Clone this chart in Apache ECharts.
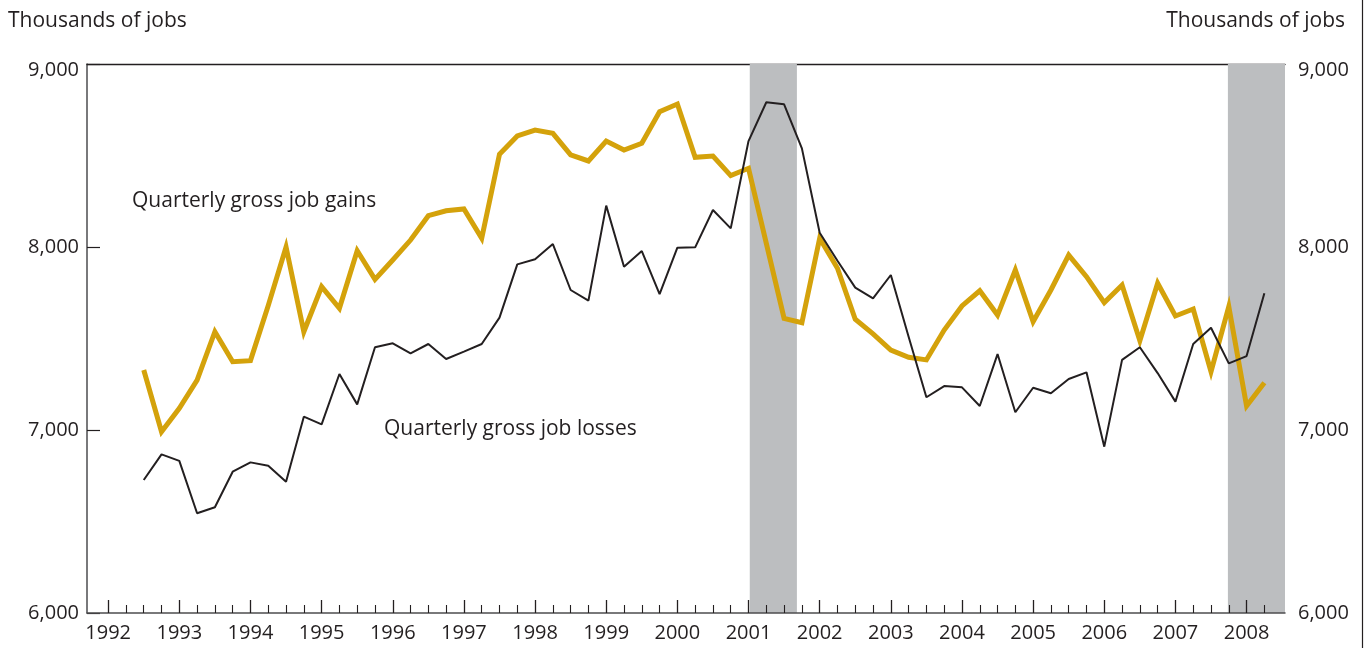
<!DOCTYPE html>
<html>
<head>
<meta charset="utf-8">
<script src="https://cdn.jsdelivr.net/npm/echarts@6/dist/echarts.min.js"></script>
<style>
  html, body { margin: 0; padding: 0; background: #fff; }
  #chart { width: 1365px; height: 648px; }
</style>
</head>
<body>
<div id="chart"></div>
<script>
// quarter index counts from 1992Q1 = 0
const firstQuarter = 2; // 1992Q3
const yearLabels = ['1992', '1993', '1994', '1995', '1996', '1997', '1998', '1999', '2000',
  '2001', '2002', '2003', '2004', '2005', '2006', '2007', '2008'];

const gains = [7328, 6991, 7119, 7273, 7537, 7373, 7379, 7680, 8000, 7537, 7783, 7665,
  7980, 7823, 7929, 8038, 8171, 8198, 8208, 8048, 8507, 8607, 8639, 8621,
  8503, 8470, 8579, 8530, 8567, 8739, 8781, 8490, 8497, 8390, 8430, 8020,
  7610, 7586, 8048, 7884, 7605, 7525, 7437, 7397, 7383, 7546, 7678, 7761,
  7628, 7874, 7592, 7765, 7956, 7838, 7696, 7792, 7488, 7802, 7623, 7661,
  7319, 7674, 7131, 7258];

const losses = [6727, 6867, 6831, 6545, 6578, 6772, 6823, 6805, 6717, 7073, 7031, 7306,
  7140, 7452, 7474, 7419, 7470, 7388, 7428, 7470, 7614, 7905, 7933, 8016,
  7765, 7707, 8226, 7892, 7978, 7742, 7996, 7998, 8202, 8102, 8579, 8791,
  8780, 8539, 8078, 7925, 7778, 7719, 7847, 7510, 7179, 7240, 7233, 7131,
  7415, 7097, 7231, 7201, 7279, 7315, 6909, 7383, 7452, 7311, 7155, 7470,
  7559, 7364, 7404, 7747];

// recession periods, in quarter index
const recessions = [[36.07, 38.72], [62.95, 66.16]];

const FONT = '"Open Sans", sans-serif';
const TXT = '#231f20';

const xMin = -1.19;
const xMax = 66.16;
const yearTicks = yearLabels.map((y, i) => i * 4);
const quarterTicks = [];
for (let q = 0; q <= 65; q += 1) {
  if (q % 4 !== 0) quarterTicks.push(q);
}

// 9,000 sits a little below the top line, like the original
function fmt(v) {
  const s = String(v).replace(/\B(?=(\d{3})+(?!\d))/g, ',');
  return v === 9000 ? `{top|${s}}` : s;
}
const topRich = { top: { fontFamily: FONT, fontSize: 20, color: TXT, padding: [12, 0, 0, 0] } };

const chart = echarts.init(document.getElementById('chart'));

const option = {
  animation: false,
  grid: { left: 87, right: 80, top: 64, bottom: 35, containLabel: false },
  xAxis: [
    {
      type: 'value', min: xMin, max: xMax, position: 'bottom', z: 5,
      axisLine: { show: true, onZero: false, lineStyle: { color: '#4d4d4f', width: 1.5 } },
      axisTick: { show: true, inside: true, length: 13, customValues: yearTicks, lineStyle: { color: TXT, width: 1.3 } },
      axisLabel: {
        show: true, customValues: yearTicks, margin: 10,
        color: TXT, fontFamily: FONT, fontSize: 20,
        formatter: (v) => yearLabels[Math.round(v / 4)],
      },
      splitLine: { show: false },
    },
    {
      type: 'value', min: xMin, max: xMax, position: 'bottom', z: 5,
      axisLine: { show: false, onZero: false },
      axisTick: { show: true, inside: true, length: 8, customValues: quarterTicks, lineStyle: { color: TXT, width: 1.1 } },
      axisLabel: { show: false },
      splitLine: { show: false },
    },
    {
      type: 'value', min: xMin, max: xMax, position: 'top',
      axisLine: { show: true, onZero: false, lineStyle: { color: TXT, width: 1.3 } },
      axisTick: { show: false },
      axisLabel: { show: false },
      splitLine: { show: false },
    },
  ],
  yAxis: [
    {
      type: 'value', min: 6000, max: 9000, interval: 1000, position: 'left',
      axisLine: { show: true, onZero: false, lineStyle: { color: '#4d4d4f', width: 1.5 } },
      axisTick: { show: true, inside: true, length: 13, lineStyle: { color: TXT, width: 1.2 } },
      axisLabel: { color: TXT, fontFamily: FONT, fontSize: 20, margin: 8, formatter: fmt, rich: topRich },
      splitLine: { show: false },
    },
    {
      type: 'value', min: 6000, max: 9000, interval: 1000, position: 'right',
      axisLine: { show: false, onZero: false },
      axisTick: { show: true, inside: true, length: 13, customValues: [7000, 8000], lineStyle: { color: TXT, width: 1.2 } },
      axisLabel: { color: TXT, fontFamily: FONT, fontSize: 20, margin: 13, formatter: fmt, rich: topRich },
      splitLine: { show: false },
    },
  ],
  series: [
    {
      name: 'Recession',
      type: 'line',
      data: [],
      markArea: {
        silent: true,
        itemStyle: { color: '#bcbec0' },
        data: recessions.map((r) => [{ xAxis: r[0] }, { xAxis: r[1] }]),
      },
    },
    {
      name: 'Quarterly gross job gains',
      type: 'line',
      data: gains.map((v, i) => [firstQuarter + i, v]),
      symbol: 'none',
      lineStyle: { color: '#d4a20b', width: 5, join: 'miter' },
      z: 3,
    },
    {
      name: 'Quarterly gross job losses',
      type: 'line',
      data: losses.map((v, i) => [firstQuarter + i, v]),
      symbol: 'none',
      lineStyle: { color: TXT, width: 2 },
      z: 4,
    },
  ],
  graphic: [
    { type: 'text', left: 8, top: 11, style: { text: 'Thousands of jobs', fill: TXT, font: '21px ' + FONT } },
    { type: 'text', right: 20, top: 11, style: { text: 'Thousands of jobs', fill: TXT, font: '21px ' + FONT } },
    { type: 'text', left: 132, top: 191, style: { text: 'Quarterly gross job gains', fill: TXT, font: '21px ' + FONT } },
    { type: 'text', left: 384, top: 419, style: { text: 'Quarterly gross job losses', fill: TXT, font: '21px ' + FONT } },
    { type: 'line', shape: { x1: 1362.5, y1: 0, x2: 1362.5, y2: 648 }, style: { stroke: TXT, lineWidth: 1.2 } },
  ],
};

chart.setOption(option);
</script>
</body>
</html>
